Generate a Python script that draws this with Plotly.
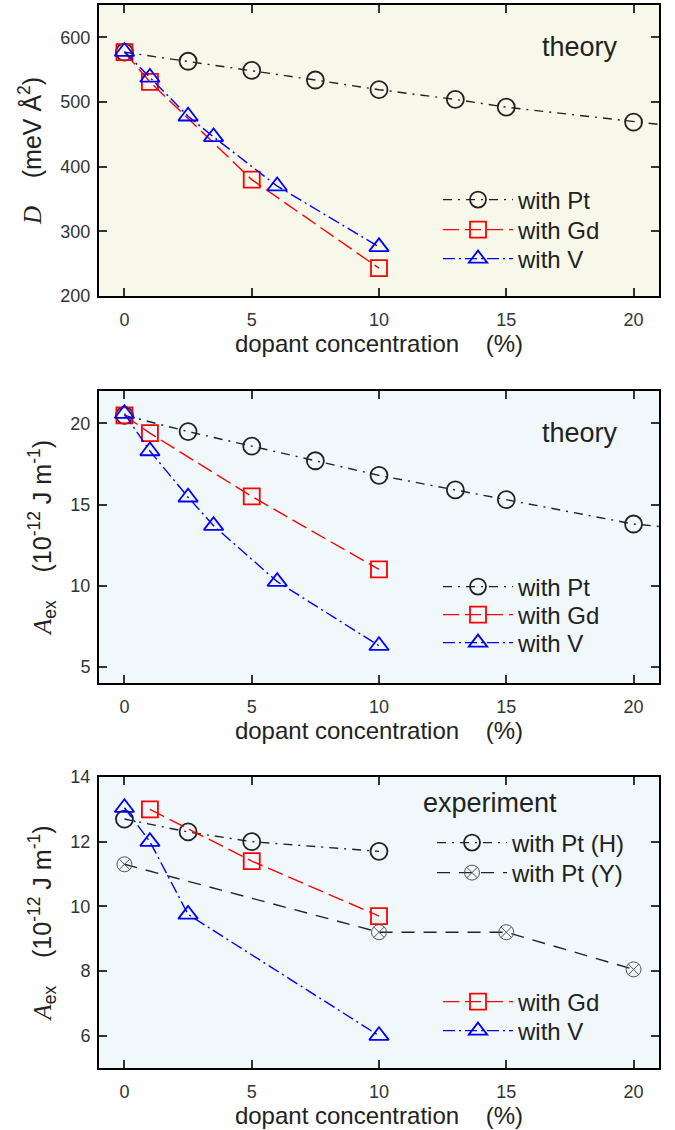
import plotly.graph_objects as go

# ---- data -------------------------------------------------------------
# theory: spin-wave stiffness D (meV Å^2) vs dopant concentration (%)
pt_x = [0, 2.5, 5, 7.5, 10, 13, 15, 20, 22]
pt_D = [577, 563, 549, 534, 519, 504, 492, 469, 461]
gd_x = [0, 1, 5, 10]
gd_D = [577, 531, 380, 243]
v_x = [0, 1, 2.5, 3.5, 6, 10]
v_D = [578, 538, 478, 446, 370, 276]

# theory: exchange stiffness A_ex (1e-12 J/m)
pt_A = [20.5, 19.5, 18.6, 17.7, 16.8, 15.9, 15.3, 13.8, 13.5]
gd_A = [20.5, 19.4, 15.5, 11.0]
v_A = [20.6, 18.3, 15.45, 13.7, 10.25, 6.3]

# experiment: exchange stiffness A_ex (1e-12 J/m)
ptH_x = [0, 2.5, 5, 10]
ptH_A = [12.7, 12.3, 12.0, 11.7]
ptY_x = [0, 10, 15, 20]
ptY_A = [11.3, 9.2, 9.2, 8.05]
gdE_x = [1, 5, 10]
gdE_A = [13.0, 11.4, 9.7]
vE_x = [0, 1, 2.5, 10]
vE_A = [13.05, 12.0, 9.75, 6.0]

x_ticks = [0, 5, 10, 15, 20]
D_ticks = [200, 300, 400, 500, 600]
A_ticks = [5, 10, 15, 20]
E_ticks = [6, 8, 10, 12, 14]

# ---- styles -----------------------------------------------------------
FONT = "Liberation Sans, Arial, sans-serif"
SERIF = "'Liberation Serif', 'DejaVu Serif', serif"
BLACK = "#222222"
RED = "#ff0000"
BLUE = "#0000ff"
GREY = "#555555"
W, H = 675, 1130

PT_DASH = "9px,6px,2px,6px"
GD_DASH = "16px,6px"
V_DASH = "12px,4px,2px,4px"
PTY_DASH = "13px,9px"

fig = go.Figure()
legends = {}
legend_common = dict(font=dict(family=FONT, size=24, color="#222"),
                     bgcolor="rgba(0,0,0,0)", xanchor="left", yanchor="middle",
                     itemwidth=70)


def add(x, y, name, color, dash, symbol, size, axis, row_y, text_x,
        lw=1.4, mlw=1.8, mcolor=None):
    # every series gets its own one-row legend so the rows can be spaced freely
    key = "legend" if not legends else f"legend{len(legends) + 1}"
    legends[key] = dict(x=(text_x - 82) / W, y=1 - row_y / H, **legend_common)
    fig.add_trace(go.Scatter(
        x=x, y=y, name=name, mode="lines+markers",
        xaxis="x" + axis, yaxis="y" + axis, legend=key,
        line=dict(color=color, width=lw, dash=dash),
        marker=dict(symbol=symbol, size=size,
                    color=mcolor or color,
                    line=dict(width=mlw, color=mcolor or color)),
    ))


# panel 1
add(pt_x, pt_D, "with Pt", BLACK, PT_DASH, "circle-open", 17, "", 200, 520)
add(gd_x, gd_D, "with Gd", RED, GD_DASH, "square-open", 16, "", 230, 520)
add(v_x, v_D, "with V", BLUE, V_DASH, "triangle-up-open", 17, "", 259, 520)
# panel 2
add(pt_x, pt_A, "with Pt", BLACK, PT_DASH, "circle-open", 17, "2", 587, 520)
add(gd_x, gd_A, "with Gd", RED, GD_DASH, "square-open", 16, "2", 615, 520)
add(v_x, v_A, "with V", BLUE, V_DASH, "triangle-up-open", 17, "2", 643, 520)
# panel 3
add(ptH_x, ptH_A, "with Pt (H)", BLACK, PT_DASH, "circle-open", 17, "3", 843, 514)
add(ptY_x, ptY_A, "with Pt (Y)", BLACK, PTY_DASH, "circle-x-open", 15, "3", 873, 514,
    mlw=1.0, mcolor=GREY)
add(gdE_x, gdE_A, "with Gd", RED, GD_DASH, "square-open", 16, "3", 1002, 520)
add(vE_x, vE_A, "with V", BLUE, V_DASH, "triangle-up-open", 17, "3", 1031, 520)

# ---- axes -------------------------------------------------------------
xdom = [99 / W, 659 / W]


def ydom(top, bottom):
    return [1 - bottom / H, 1 - top / H]


A_TITLE = (f"<span style=\"font-family:{SERIF}\"><i>A</i></span><sub>ex</sub>"
           "    (10<sup>-12</sup> J m<sup>-1</sup>)")
D_TITLE = f"<span style=\"font-family:{SERIF}\"><i>D</i></span>    (meV Å<sup>2</sup>)"

panels = [("", ydom(5, 296), [200, 650], D_ticks, D_TITLE, "#f8f8ea"),
          ("2", ydom(391, 683), [4, 22], A_ticks, A_TITLE, "#f0f8fb"),
          ("3", ydom(777, 1068), [5, 14], E_ticks, A_TITLE, "#f0f8fb")]

axis_common = dict(showline=True, linewidth=2, linecolor="black", mirror="ticks",
                   ticks="inside", ticklen=8, tickwidth=1.5, tickcolor="#333",
                   showgrid=False, zeroline=False, automargin=False,
                   tickfont=dict(family=FONT, size=18, color="#333"))

layout = {}
shapes = []
for ax, ydomain, yrange, yticks, ytitle, bg in panels:
    layout["xaxis" + ax] = dict(
        domain=xdom, range=[-1, 21], anchor="y" + ax,
        tickvals=x_ticks, ticklabelstandoff=6,
        title=dict(text="dopant concentration    (%)", standoff=3,
                   font=dict(family=FONT, size=24, color="#222")),
        **axis_common)
    layout["yaxis" + ax] = dict(
        domain=ydomain, range=yrange, anchor="x" + ax,
        tickvals=yticks, ticklabelstandoff=3,
        title=dict(text=ytitle, standoff=12,
                   font=dict(family=FONT, size=25, color="#222")),
        **axis_common)
    shapes.append(dict(type="rect", xref=f"x{ax} domain", yref=f"y{ax} domain",
                       x0=0, x1=1, y0=0, y1=1, layer="below",
                       fillcolor=bg, line=dict(width=0)))

annotations = [
    dict(text="theory", x=580 / W, y=1 - 47 / H),
    dict(text="theory", x=580 / W, y=1 - 433 / H),
    dict(text="experiment", x=490 / W, y=1 - 803 / H),
]
for a in annotations:
    a.update(xref="paper", yref="paper", showarrow=False,
             xanchor="center", yanchor="middle",
             font=dict(family=FONT, size=27, color="#222"))

fig.update_layout(
    width=W, height=H,
    margin=dict(l=0, r=0, t=0, b=0),
    paper_bgcolor="white", plot_bgcolor="rgba(0,0,0,0)",
    showlegend=True,
    shapes=shapes, annotations=annotations,
    **layout, **legends,
)

fig.write_html("out.html")
